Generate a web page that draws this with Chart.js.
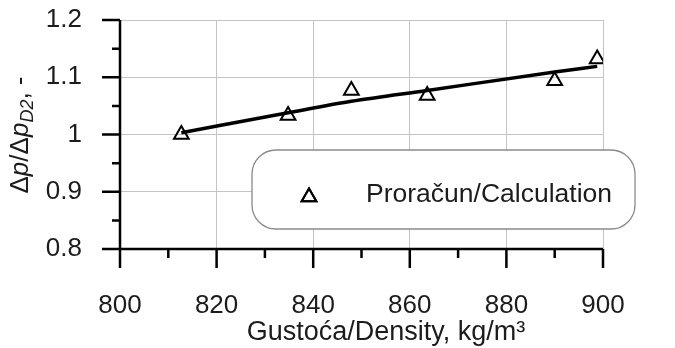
<!DOCTYPE html>
<html>
<head>
<meta charset="utf-8">
<script src="https://cdn.jsdelivr.net/npm/chart.js@4"></script>
<style>
  html, body { margin: 0; padding: 0; background: #fff; }
  #wrap { width: 675px; height: 348px; }
</style>
</head>
<body>
<div id="wrap"><canvas id="densityChart"></canvas></div>
<script>
// values
const density = [812.7, 834.8, 847.9, 863.6, 890.0, 898.8];
const calcRatio = [1.000, 1.033, 1.077, 1.068, 1.094, 1.132];
const fitRatio = [1.003, 1.038, 1.058, 1.077, 1.109, 1.119];

const xTicks = [800, 820, 840, 860, 880, 900];
const xTickLabels = ['800', '820', '840', '860', '880', '900'];
const yTicks = [0.8, 0.9, 1.0, 1.1, 1.2];
const yTickLabels = ['0.8', '0.9', '1', '1.1', '1.2'];
const xMinor = [810, 830, 850, 870, 890];
const yMinor = [0.85, 0.95, 1.05, 1.15];

const legendLabel = 'Proračun/Calculation';
const xTitle = 'Gustoća/Density, kg/m³';

const FONT = "'Liberation Sans', Arial, sans-serif";
const TXT = '#1c1c1c';

function labelFor(ticks, labels, v) {
    const i = ticks.findIndex(t => Math.abs(t - v) < 1e-6);
    return i >= 0 ? labels[i] : '';
}

// axis lines with major/minor ticks, drawn over the grid
const axesPlugin = {
    id: 'axes',
    afterDatasetsDraw(chart) {
        const { ctx, chartArea: a, scales: { x, y } } = chart;
        ctx.save();
        ctx.strokeStyle = '#000';
        ctx.lineWidth = 2.5;
        ctx.beginPath();
        ctx.moveTo(a.left, a.top);
        ctx.lineTo(a.left, a.bottom + 19);
        ctx.moveTo(a.left - 18, a.bottom);
        ctx.lineTo(a.right, a.bottom);
        yTicks.forEach(v => {
            const py = y.getPixelForValue(v);
            ctx.moveTo(a.left - 18, py);
            ctx.lineTo(a.left, py);
        });
        yMinor.forEach(v => {
            const py = y.getPixelForValue(v);
            ctx.moveTo(a.left - 8, py);
            ctx.lineTo(a.left, py);
        });
        xTicks.forEach(v => {
            const px = x.getPixelForValue(v);
            ctx.moveTo(px, a.bottom);
            ctx.lineTo(px, a.bottom + 19);
        });
        xMinor.forEach(v => {
            const px = x.getPixelForValue(v);
            ctx.moveTo(px, a.bottom);
            ctx.lineTo(px, a.bottom + 9);
        });
        ctx.stroke();
        ctx.restore();
    }
};

// rounded legend box inside the plot
const legendBoxPlugin = {
    id: 'legendBox',
    afterDatasetsDraw(chart) {
        const ctx = chart.ctx;
        const bx = 252, by = 150, bw = 383, bh = 79, r = 24;
        ctx.save();
        ctx.beginPath();
        ctx.roundRect(bx, by, bw, bh, r);
        ctx.fillStyle = '#fff';
        ctx.fill();
        ctx.lineWidth = 1.3;
        ctx.strokeStyle = '#8a8a8a';
        ctx.stroke();

        ctx.lineWidth = 2;
        ctx.strokeStyle = '#000';
        Chart.helpers.drawPoint(ctx, { pointStyle: 'triangle', radius: 8.5, borderWidth: 2, rotation: 0 }, 309, 197);
        ctx.stroke();

        ctx.fillStyle = TXT;
        ctx.font = '26.5px ' + FONT;
        ctx.textBaseline = 'middle';
        ctx.textAlign = 'left';
        ctx.fillText(legendLabel, 366, 195);
        ctx.restore();
    }
};

// axis titles: y one has italic p and subscript D2
const titlesPlugin = {
    id: 'titles',
    afterDraw(chart) {
        const ctx = chart.ctx;
        ctx.save();
        ctx.fillStyle = TXT;
        ctx.font = '27px ' + FONT;
        ctx.textAlign = 'center';
        ctx.textBaseline = 'middle';
        ctx.fillText(xTitle, 386, 333);

        const parts = [
            { t: 'Δ', f: '26px ' + FONT, dy: 0 },
            { t: 'p', f: 'italic 26px ' + FONT, dy: 0 },
            { t: '/Δ', f: '26px ' + FONT, dy: 0 },
            { t: 'p', f: 'italic 26px ' + FONT, dy: 0 },
            { t: 'D2', f: 'italic 18px ' + FONT, dy: 7 },
            { t: ', -', f: '26px ' + FONT, dy: 0 }
        ];
        ctx.textAlign = 'left';
        let total = 0;
        parts.forEach(p => { ctx.font = p.f; p.w = ctx.measureText(p.t).width; total += p.w; });
        ctx.translate(21, 135);
        ctx.rotate(-Math.PI / 2);
        let cx = -total / 2;
        parts.forEach(p => {
            ctx.font = p.f;
            ctx.fillText(p.t, cx, p.dy);
            cx += p.w;
        });
        ctx.restore();
    }
};

const ctx = document.getElementById('densityChart').getContext('2d');
const densityChart = new Chart(ctx, {
    type: 'scatter',
    data: {
        datasets: [{
            label: legendLabel,
            data: density.map((d, i) => ({ x: d, y: calcRatio[i] })),
            showLine: false,
            pointStyle: 'triangle',
            pointRadius: 8.5,
            pointBorderWidth: 2,
            pointBorderColor: '#000',
            pointBackgroundColor: 'rgba(255,255,255,0)'
        }, {
            label: 'fit',
            data: density.map((d, i) => ({ x: d, y: fitRatio[i] })),
            showLine: true,
            borderColor: '#000',
            borderWidth: 3.5,
            pointRadius: 0,
            cubicInterpolationMode: 'monotone'
        }]
    },
    options: {
        responsive: true,
        maintainAspectRatio: false,
        animation: false,
        layout: { padding: { top: 20, right: 72, left: 0, bottom: 0 } },
        plugins: {
            legend: { display: false },
            tooltip: { enabled: false }
        },
        scales: {
            x: {
                type: 'linear',
                min: 800,
                max: 900,
                afterFit: s => { s.height = 99; },
                afterBuildTicks: s => { s.ticks = xTicks.map(v => ({ value: v })); },
                border: { display: false },
                // invisible tick marks only push the labels down
                grid: { color: '#c4c4c4', lineWidth: 1, drawTicks: true, tickLength: 37, tickColor: 'rgba(0,0,0,0)' },
                ticks: {
                    padding: 4,
                    color: TXT,
                    font: { family: FONT, size: 26 },
                    maxRotation: 0,
                    callback: v => labelFor(xTicks, xTickLabels, v)
                }
            },
            y: {
                type: 'linear',
                min: 0.8,
                max: 1.2,
                afterFit: s => { s.width = 120; },
                afterBuildTicks: s => { s.ticks = yTicks.map(v => ({ value: v })); },
                border: { display: false },
                grid: { color: '#c4c4c4', lineWidth: 1, drawTicks: true, tickLength: 34, tickColor: 'rgba(0,0,0,0)' },
                ticks: {
                    padding: 4,
                    color: TXT,
                    font: { family: FONT, size: 26 },
                    callback: v => labelFor(yTicks, yTickLabels, v)
                }
            }
        }
    },
    plugins: [axesPlugin, legendBoxPlugin, titlesPlugin]
});
</script>
</body>
</html>
